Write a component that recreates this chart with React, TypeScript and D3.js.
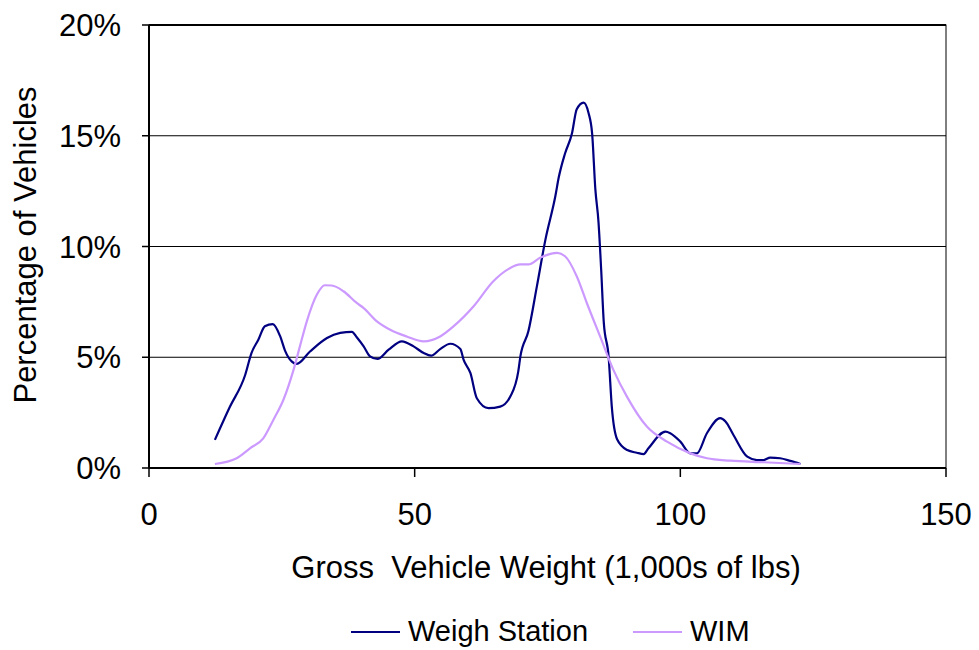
import React from "react";
import * as d3 from "d3";

// Gross vehicle weight (1,000s of lbs) and share of vehicles (%)
const weighX = [12.4, 15.2, 18.1, 19.3, 20.6, 21.8, 23.3, 24.7, 25.6, 26.9, 27.8, 30.3, 33.5, 36, 38.2, 39.1, 40.4, 41.6, 43, 45.1, 47.6, 49.8, 51.7, 53.1, 54.8, 56.7, 58.6, 59.2, 60.5, 61.7, 63.9, 66.1, 68, 69.5, 69.9, 71.4, 73, 74.6, 76.5, 77.1, 78.3, 79.6, 80.5, 81.8, 82.7, 83.4, 84, 84.6, 85.1, 85.6, 86.5, 87.1, 88.1, 90, 91.8, 93.1, 94, 97.2, 98.1, 100, 101.9, 103.1, 105, 107.5, 108.5, 110, 112.6, 114.4, 115.7, 116.9, 118.8, 120.7, 122.6];
const weighY = [1.27, 2.75, 4.2, 5.2, 5.8, 6.4, 6.5, 5.94, 5.3, 4.8, 4.7, 5.26, 5.87, 6.1, 6.15, 5.9, 5.49, 5.04, 4.92, 5.34, 5.72, 5.49, 5.19, 5.07, 5.37, 5.61, 5.37, 4.89, 4.28, 3.15, 2.7, 2.77, 3.23, 4.36, 5.04, 6.17, 8.2, 10.3, 12.3, 13.1, 14.2, 15.1, 16.2, 16.5, 16.05, 15.1, 12.6, 11.1, 8.96, 6.55, 5.04, 2.77, 1.3, 0.81, 0.69, 0.63, 0.89, 1.64, 1.57, 1.19, 0.66, 0.66, 1.57, 2.25, 2.1, 1.49, 0.51, 0.36, 0.36, 0.47, 0.44, 0.32, 0.18];

const wimX = [12.4, 16.5, 19, 21.5, 23.4, 25.3, 27.2, 28.4, 29.7, 31.6, 33.1, 34.4, 36.6, 39.1, 40.4, 42.9, 45.4, 48.5, 51.7, 54.8, 57.3, 61.1, 64.8, 67.7, 69.9, 71.4, 73.6, 76.8, 78.3, 80.5, 82.4, 84.9, 87.4, 90, 93.7, 97.5, 101.9, 105, 109.4, 115.7, 122.6];
const wimY = [0.18, 0.44, 0.89, 1.34, 2.17, 3.08, 4.43, 5.49, 6.62, 7.83, 8.25, 8.24, 7.98, 7.45, 7.22, 6.62, 6.24, 5.94, 5.72, 5.94, 6.39, 7.3, 8.43, 8.99, 9.19, 9.19, 9.49, 9.71, 9.56, 8.66, 7.45, 5.94, 4.43, 3.2, 1.87, 1.19, 0.66, 0.44, 0.33, 0.26, 0.18];

const xTicks = [0, 50, 100, 150];
const yTicks = [0, 5, 10, 15, 20];
const seriesNames = ["Weigh Station", "WIM"];
const seriesColors = ["#000080", "#CC99FF"];

const W = 979;
const H = 650;
const left = 149;
const right = 946;
const top = 25;
const bottom = 468;
const fontSize = 31;
const legendFontSize = 29;
const font = "'Liberation Sans', Arial, sans-serif";

export default function App() {
  const x = d3.scaleLinear().domain([0, 150]).range([left, right]);
  const y = d3.scaleLinear().domain([0, 20]).range([bottom, top]);
  const line = d3
    .line<[number, number]>()
    .x((d) => x(d[0]))
    .y((d) => y(d[1]))
    .curve(d3.curveMonotoneX);

  const series = [
    weighX.map((v, i) => [v, weighY[i]] as [number, number]),
    wimX.map((v, i) => [v, wimY[i]] as [number, number]),
  ];

  const legendX = [351, 633];

  return (
    <svg
      width={W}
      height={H}
      style={{ position: "absolute", left: 0, top: 0, background: "#fff" }}
      fontFamily={font}
    >
      {/* grid lines */}
      {yTicks.slice(1).map((t) => (
        <line key={t} x1={left} x2={right} y1={y(t)} y2={y(t)} stroke="#000" strokeWidth={1} />
      ))}
      {/* frame */}
      <rect x={left} y={top} width={right - left} height={bottom - top} fill="none" stroke="#000" strokeWidth={1} />
      <line x1={left} x2={left} y1={top} y2={bottom} stroke="#000" strokeWidth={2} />
      <line x1={left} x2={right} y1={bottom} y2={bottom} stroke="#000" strokeWidth={2} />
      <line x1={left} x2={right} y1={top} y2={top} stroke="#000" strokeWidth={2} />

      {/* y ticks */}
      {yTicks.map((t) => (
        <g key={t}>
          <line x1={left - 7} x2={left} y1={y(t)} y2={y(t)} stroke="#000" strokeWidth={1.5} />
          <text x={121} y={y(t) + 11} textAnchor="end" fontSize={fontSize} fill="#000">
            {t}%
          </text>
        </g>
      ))}
      {/* x ticks */}
      {xTicks.map((t) => (
        <g key={t}>
          <line x1={x(t)} x2={x(t)} y1={bottom} y2={bottom + 9} stroke="#000" strokeWidth={1.5} />
          <text x={x(t)} y={525} textAnchor="middle" fontSize={fontSize} fill="#000">
            {t}
          </text>
        </g>
      ))}

      {/* series */}
      {series.map((pts, i) => (
        <path
          key={i}
          d={line(pts) || ""}
          fill="none"
          stroke={seriesColors[i]}
          strokeWidth={2.2}
          strokeLinejoin="round"
        />
      ))}

      {/* axis titles */}
      <text
        x={546}
        y={578}
        textAnchor="middle"
        fontSize={fontSize}
        fill="#000"
        style={{ whiteSpace: "pre" }}
      >
        {"Gross  Vehicle Weight (1,000s of lbs)"}
      </text>
      <text
        transform={`translate(36,${245}) rotate(-90)`}
        textAnchor="middle"
        fontSize={fontSize}
        fill="#000"
      >
        Percentage of Vehicles
      </text>

      {/* legend */}
      {seriesNames.map((n, i) => (
        <g key={n}>
          <line x1={legendX[i]} x2={legendX[i] + 49} y1={632} y2={632} stroke={seriesColors[i]} strokeWidth={2} />
          <text x={legendX[i] + 57} y={641} fontSize={legendFontSize} fill="#000">
            {n}
          </text>
        </g>
      ))}
    </svg>
  );
}
